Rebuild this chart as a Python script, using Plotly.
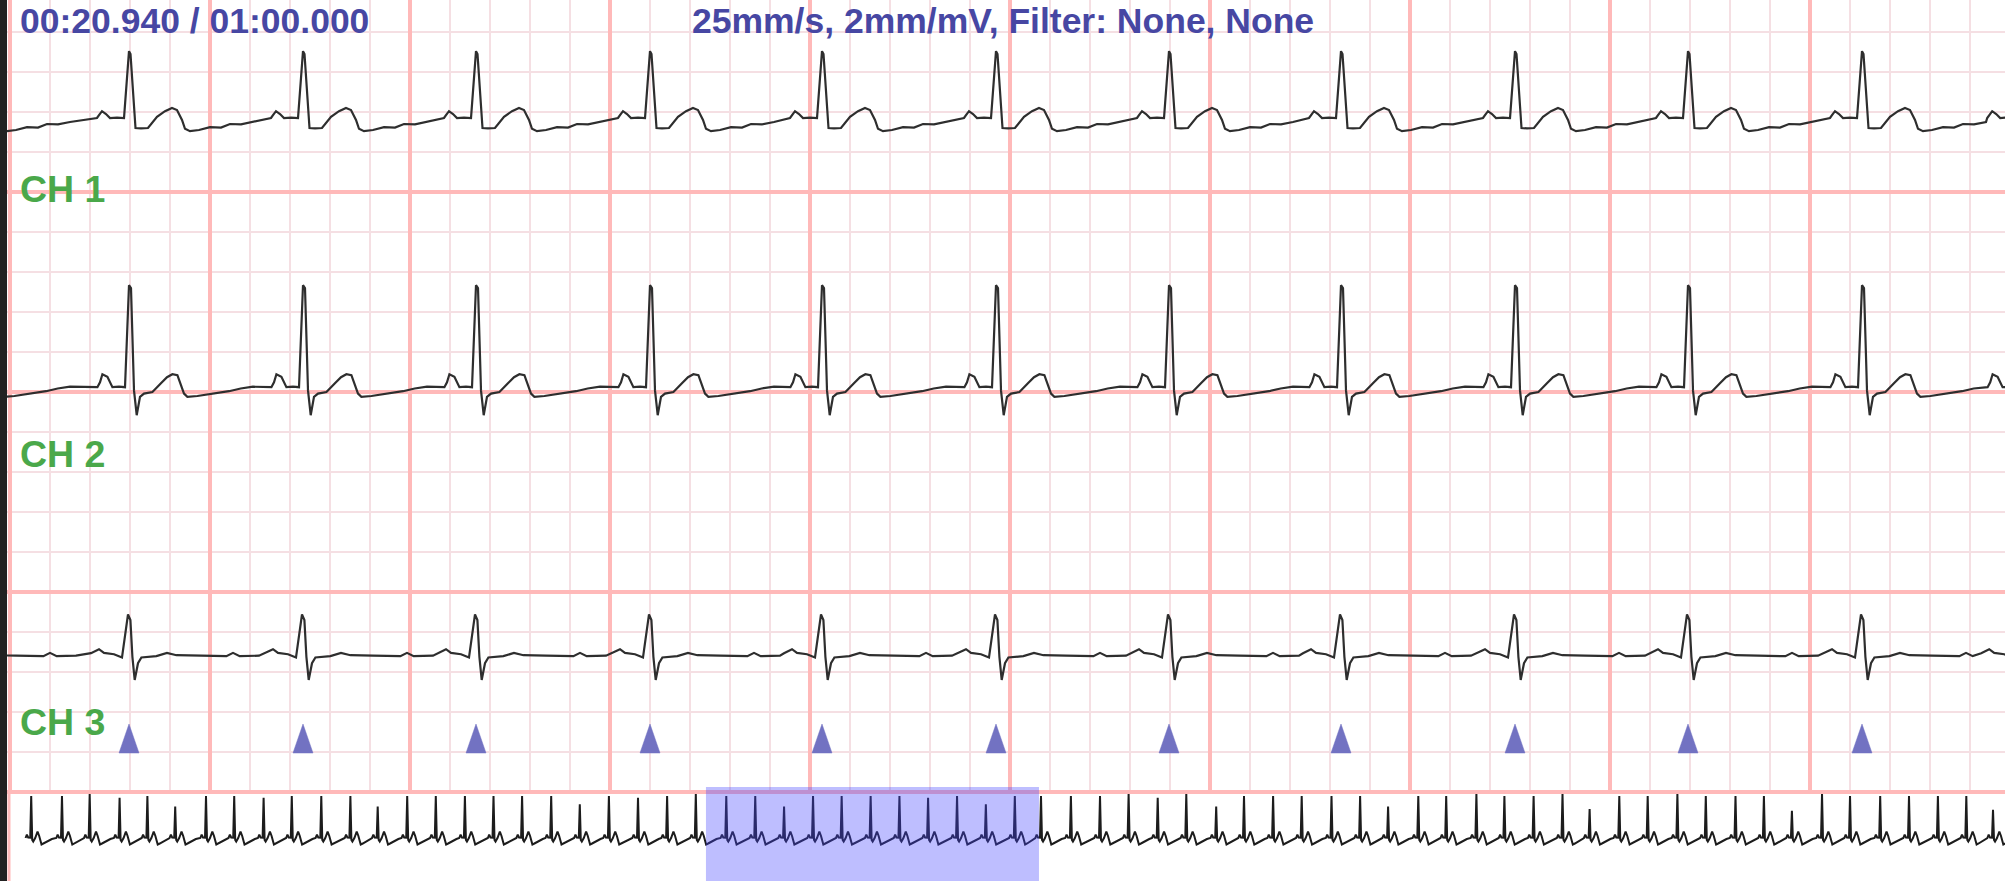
import plotly.graph_objects as go

# ------------------------------------------------------------------ data
WINDOW_START = 20.94      # s, start of detail window
WINDOW_LEN = 10.0         # s, width of detail window
RECORD_LEN = 60.0         # s, whole record
TIME_LABEL = "00:20.940 / 01:00.000"
INFO_LABEL = "25mm/s, 2mm/mV, Filter: None, None"
CHANNEL_NAMES = ["CH 1", "CH 2", "CH 3"]

# R-peak times inside the detail window (s)
view_beats = [21.55, 22.42, 23.285, 24.155, 25.015, 25.885, 26.75, 27.61,
              28.48, 29.345, 30.215]

# R-peak times over the whole record (s)
before_beats = [0.677, 1.601, 2.433, 3.331, 4.166, 5.001, 5.926, 6.773, 7.656,
                8.502, 9.388, 10.262, 11.082, 11.968, 12.827, 13.701, 14.560,
                15.418, 16.292, 17.151, 18.025, 18.899, 19.773, 20.635]
after_beats = [31.001, 31.899, 32.773, 33.632, 34.506, 35.364, 36.262, 37.097,
               37.971, 38.830, 39.725, 40.584, 41.424, 42.331, 43.169, 44.076,
               44.917, 45.794, 46.662, 47.476, 48.367, 49.220, 50.112, 50.965,
               51.857, 52.710, 53.551, 54.455, 55.296, 56.202, 57.067, 57.935,
               58.788, 59.590]
all_beats = before_beats + view_beats + after_beats

# relative R height of each beat in the overview strip
overview_r_scale = [1.0, 1.0, 1.05, 0.96, 1.0, 0.75, 1.0, 1.0, 0.96, 1.0, 1.0,
                    1.0, 0.75, 1.0, 1.0, 1.0, 1.0, 1.0, 1.0, 0.8, 1.0, 0.96,
                    1.0, 1.05,
                    1.0, 1.0, 0.75, 1.0, 1.0, 1.0, 1.0, 0.96, 1.0, 0.8, 1.0,
                    1.0, 1.0, 1.0, 1.05, 0.96, 1.05, 0.75, 1.0, 1.0, 1.0,
                    1.0, 1.0, 0.75, 1.0, 1.0, 1.05, 1.0, 1.0, 1.05, 0.69, 1.0,
                    1.0, 1.05, 1.0, 1.0, 1.0, 0.65, 1.05, 1.0, 1.0, 1.0, 1.0,
                    1.0, 0.67]

# beat shapes read from the strips: offset from R peak (s), amplitude (mm)
ch1_off = [-0.160, -0.150, -0.135, -0.115, -0.095, -0.060, -0.025, 0.000,
           0.0075, 0.0325, 0.060, 0.095, 0.140, 0.180, 0.215, 0.240, 0.265,
           0.280, 0.305, 0.350, 0.405, 0.460, 0.505, 0.560, 0.620]
ch1_amp = [0.25, 0.60, 1.10, 0.75, 0.25, 0.30, 0.25, 8.60, 8.25, -1.00, -1.05,
           -1.00, 0.40, 1.10, 1.50, 1.25, 0.00, -1.10, -1.40, -1.25, -0.90,
           -0.95, -0.50, -0.55, -0.25]

ch2_off = [-0.158, -0.145, -0.133, -0.108, -0.083, -0.050, -0.020, 0.000,
           0.010, 0.025, 0.0385, 0.055, 0.075, 0.117, 0.1585, 0.190, 0.217,
           0.242, 0.275, 0.292, 0.342, 0.425, 0.500, 0.5585, 0.620]
ch2_amp = [0.0, 0.62, 1.62, 1.29, 0.0, 0.06, 0.0, 12.75, 12.40, -0.40, -3.50,
           -1.20, -0.80, -0.60, 0.46, 1.25, 1.62, 1.50, -0.80, -1.20, -1.10,
           -0.80, -0.50, -0.16, 0.06]

ch3_off = [-0.190, -0.150, -0.125, -0.075, -0.035, -0.005, 0.007, 0.017,
           0.0285, 0.045, 0.062, 0.137, 0.190, 0.237, 0.350, 0.487, 0.520,
           0.5535, 0.650]
ch3_amp = [0.25, 0.75, 0.29, 0.12, -0.29, 5.10, 4.40, -0.20, -3.10, -1.00,
           -0.29, -0.12, 0.29, 0.0, -0.06, -0.12, 0.29, -0.12, -0.06]

ov_off = [-0.17, -0.13, -0.09, -0.03, 0.0, 0.03, 0.06, 0.12, 0.19, 0.24, 0.31,
          0.37, 0.50, 0.62]
ov_amp = [0.0, 3.3, 0.5, 0.3, 42.0, -2.0, -3.5, 0.0, 6.5, 2.0, -6.5, -5.5,
          -3.0, -1.0]

channel_baselines = [84.0, 50.6, 17.1]   # mm on the grid
overview_baseline = 43.0

# ------------------------------------------------------------------ style
MAJOR = "#ffb9b9"
MINOR = "#f5dfe3"
TRACE = "#2e2e2e"
BLUE_TXT = "#4747a3"
GREEN = "#4aa84a"
MARK = "#7272c2"
W, H = 2005, 881
LEFT = 7
MAIN_H = 794
FONT = "Liberation Sans, Arial, sans-serif"


def build(beats, offs, amps, base, rscale=None, lo=-1e9, hi=1e9):
    xs, ys = [], []
    for i, r in enumerate(beats):
        if r < lo or r > hi:
            continue
        nxt = beats[i + 1] if i + 1 < len(beats) else None
        k = rscale[i] if rscale else 1.0
        for dt, a in zip(offs, amps):
            t = r + dt
            if nxt is not None and t >= nxt + offs[0]:
                break
            if t < 0:
                continue
            xs.append(t)
            ys.append(base + (a * k if dt == 0 else a))
    return xs, ys


fig = go.Figure()

lo, hi = WINDOW_START - 1.5, WINDOW_START + WINDOW_LEN + 1.5
for offs, amps, base in [(ch1_off, ch1_amp, channel_baselines[0]),
                         (ch2_off, ch2_amp, channel_baselines[1]),
                         (ch3_off, ch3_amp, channel_baselines[2])]:
    xs, ys = build(all_beats, offs, amps, base, lo=lo, hi=hi)
    fig.add_trace(go.Scatter(x=xs, y=ys, mode="lines",
                             line=dict(color=TRACE, width=2.2),
                             hoverinfo="skip", showlegend=False,
                             xaxis="x", yaxis="y"))

# beat markers (tall triangles under CH 3)
tri_half = 0.05
tri_base, tri_top = 4.875, 8.5
tx, ty = [], []
for r in view_beats:
    tx += [r - tri_half, r + tri_half, r, r - tri_half, None]
    ty += [tri_base, tri_base, tri_top, tri_base, None]
fig.add_trace(go.Scatter(x=tx, y=ty, mode="lines", fill="toself",
                         fillcolor=MARK, line=dict(color=MARK, width=0.5),
                         hoverinfo="skip", showlegend=False,
                         xaxis="x", yaxis="y"))

# overview strip
oxs, oys = build(all_beats, ov_off, ov_amp, overview_baseline,
                 rscale=overview_r_scale)
fig.add_trace(go.Scatter(x=oxs, y=oys, mode="lines",
                         line=dict(color="#1c1c1c", width=2),
                         hoverinfo="skip", showlegend=False,
                         xaxis="x2", yaxis="y2"))

split = (H - MAIN_H) / H
plot_w = W - LEFT


def px_x(px):
    return (px - LEFT) / plot_w


def px_y(py):
    return 1 - py / H


fig.update_layout(
    width=W, height=H,
    margin=dict(l=LEFT, r=0, t=0, b=0, pad=0),
    paper_bgcolor="#222222", plot_bgcolor="white",
    showlegend=False,
    xaxis=dict(domain=[0, 1], anchor="y",
               range=[WINDOW_START, WINDOW_START + plot_w / 200.0],
               tick0=WINDOW_START + 3 / 200.0, dtick=1,
               showgrid=True, gridcolor=MAJOR, gridwidth=3.5,
               minor=dict(tick0=WINDOW_START + 3 / 200.0, dtick=0.2,
                          showgrid=True, gridcolor=MINOR, gridwidth=2),
               showticklabels=False, ticks="", zeroline=False,
               showline=False, fixedrange=True),
    yaxis=dict(domain=[split, 1], anchor="x",
               range=[-0.25, 99],
               tick0=0, dtick=25,
               showgrid=True, gridcolor=MAJOR, gridwidth=3.5,
               minor=dict(tick0=0, dtick=5, showgrid=True,
                          gridcolor=MINOR, gridwidth=2),
               showticklabels=False, ticks="", zeroline=False,
               showline=False, fixedrange=True),
    xaxis2=dict(domain=[0, 1], anchor="y2",
                range=[-0.05, RECORD_LEN - 0.05],
                showgrid=False, showticklabels=False, ticks="",
                zeroline=False, showline=False, fixedrange=True),
    yaxis2=dict(domain=[0, split], anchor="x2", range=[0, H - MAIN_H],
                showgrid=False, showticklabels=False, ticks="",
                zeroline=False, showline=False, fixedrange=True),
)

# selection window in the overview
fig.add_shape(type="rect", xref="x2", yref="paper",
              x0=WINDOW_START, x1=WINDOW_START + WINDOW_LEN,
              y0=0, y1=px_y(787),
              fillcolor="rgba(70,70,255,0.35)", line=dict(width=0),
              layer="above")
# left border line of the overview
fig.add_shape(type="line", xref="paper", yref="paper",
              x0=px_x(9), x1=px_x(9), y0=0, y1=split,
              line=dict(color=MAJOR, width=3), layer="below")

for txt, xpx in [(TIME_LABEL, 19), (INFO_LABEL, 691)]:
    fig.add_annotation(text=txt, xref="paper", yref="paper",
                       x=px_x(xpx), y=1, xanchor="left", yanchor="top",
                       showarrow=False, borderpad=0,
                       font=dict(family=FONT, size=35.5, color=BLUE_TXT,
                                 weight="bold"))
for name, ypx in zip(CHANNEL_NAMES, [189, 454, 722]):
    fig.add_annotation(text=name, xref="paper", yref="paper",
                       x=px_x(18), y=px_y(ypx), xanchor="left",
                       yanchor="middle", showarrow=False,
                       font=dict(family=FONT, size=37.5, color=GREEN,
                                 weight="bold"))

fig.write_html("out.html",
               config={"displayModeBar": False, "staticPlot": True},
               post_script="document.body.style.margin='0px';"
                           "document.body.style.overflow='hidden';")
